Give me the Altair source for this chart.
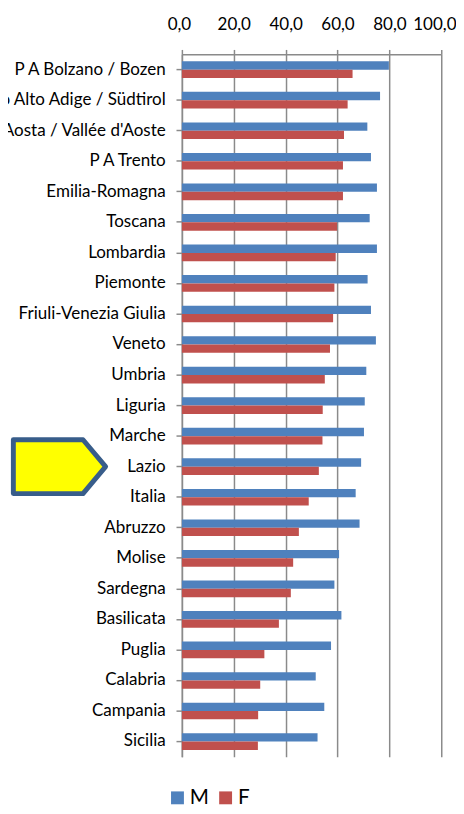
import altair as alt
import pandas as pd

regions = ["P A Bolzano / Bozen", "Trentino Alto Adige / Südtirol", "Valle d'Aosta / Vallée d'Aoste",
           "P A Trento", "Emilia-Romagna", "Toscana", "Lombardia", "Piemonte", "Friuli-Venezia Giulia",
           "Veneto", "Umbria", "Liguria", "Marche", "Lazio", "Italia", "Abruzzo", "Molise", "Sardegna",
           "Basilicata", "Puglia", "Calabria", "Campania", "Sicilia"]
male = [79.8, 76.4, 71.5, 72.9, 75.2, 72.4, 75.2, 71.6, 72.9, 74.8, 71.1, 70.5, 70.2, 69.1, 67.0,
        68.5, 60.6, 58.8, 61.5, 57.5, 51.6, 54.9, 52.3]
female = [65.8, 63.9, 62.5, 62.1, 62.1, 59.8, 59.3, 58.8, 58.3, 57.1, 55.1, 54.3, 54.2, 52.8, 48.9,
          45.1, 42.9, 42.0, 37.4, 31.8, 30.2, 29.4, 29.3]
series = ["M", "F"]
colors = ["#4F81BD", "#C0504D"]
x_ticks = [0, 20, 40, 60, 80, 100]
highlight = ["Lazio"]

rows = []
for r, m, f in zip(regions, male, female):
    rows.append({"region": r, "sex": "M", "value": m})
    rows.append({"region": r, "sex": "F", "value": f})
df = pd.DataFrame(rows)

FONT = "Lato"
GRID = "#8a8a8a"

y_enc = alt.Y("region:N", sort=regions,
              scale=alt.Scale(domain=regions, paddingInner=0.455, paddingOuter=0.2275),
              axis=alt.Axis(title=None, labelFont=FONT, labelFontSize=17.3, labelColor="black",
                            labelLimit=400, labelPadding=11, tickSize=6, tickColor=GRID,
                            tickWidth=1.5, domainColor=GRID, domainWidth=1.5))

bars = alt.Chart(df).mark_bar().encode(
    y=y_enc,
    yOffset=alt.YOffset("sex:N", sort=series, scale=alt.Scale(domain=series)),
    x=alt.X("value:Q", scale=alt.Scale(domain=[0, 100], nice=False),
            axis=alt.Axis(orient="top", values=x_ticks, title=None, labelOverlap=False,
                          labelExpr="replace(format(datum.value, '.1f'), '.', ',')",
                          labelFont=FONT, labelFontSize=17.3, labelColor="black", labelPadding=16,
                          labelFlush=True, labelFlushOffset=15,
                          grid=True, gridColor=GRID, gridWidth=1.5, tickSize=5, tickColor=GRID,
                          tickWidth=1.5, domainColor=GRID, domainWidth=1.5)),
    color=alt.Color("sex:N", sort=series, scale=alt.Scale(domain=series, range=colors),
                    legend=alt.Legend(orient="none", legendX=-15, legendY=746, direction="horizontal",
                                      title=None, symbolType="square", symbolSize=172,
                                      symbolStrokeWidth=0, labelFont=FONT, labelFontSize=21,
                                      labelColor="black", columnPadding=6, padding=0,
                                      labelOffset=2)),
)

arrow_path = "M -1 -0.584 L 0.51 -0.584 L 1 0 L 0.51 0.584 L -1 0.584 Z"
arrow = alt.Chart(pd.DataFrame({"region": highlight})).mark_point(
    shape=arrow_path, size=8817, filled=True, fill="#FFFF00", stroke="#385D8A",
    strokeWidth=5, strokeJoin="round", opacity=1, fillOpacity=1, strokeOpacity=1
).encode(
    y=alt.Y("region:N", sort=regions, scale=alt.Scale(domain=regions)),
    x=alt.value(-124.6),
)

chart = alt.layer(bars, arrow).properties(
    width=264, height=715,
    autosize=alt.AutoSizeParams(type="none"),
    padding={"left": 177, "top": 40, "right": 15, "bottom": 51},
).configure_view(stroke=None)

chart.save("out.html", embed_options={"renderer": "svg", "actions": False})
